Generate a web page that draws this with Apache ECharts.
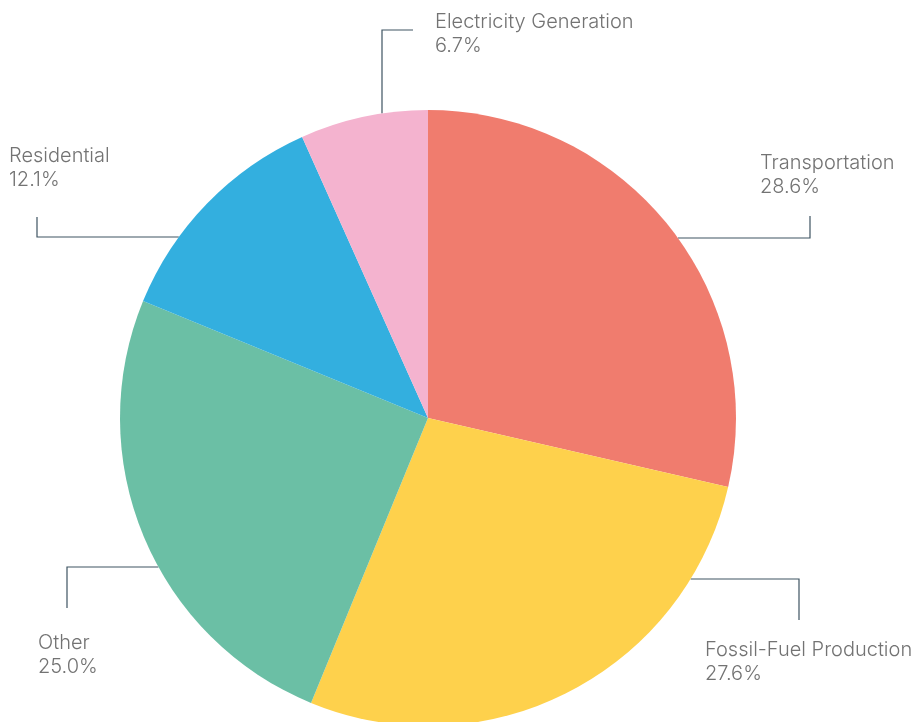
<!DOCTYPE html>
<html>
<head>
<meta charset="utf-8">
<script src="https://cdn.jsdelivr.net/npm/echarts@6/dist/echarts.min.js"></script>
<style>
html, body { margin: 0; padding: 0; background: #fff; }
#main { width: 919px; height: 722px; }
</style>
</head>
<body>
<div id="main"></div>
<script>
var sectors = ['Transportation', 'Fossil-Fuel Production', 'Other', 'Residential', 'Electricity Generation'];
var shares = [28.6, 27.6, 25.0, 12.1, 6.7];
var colors = ['#F07C6E', '#FED14C', '#6BBFA5', '#33AFDF', '#F4B3CF'];

var cx = 428, cy = 418, R = 308;

// where each label sits and how its leader line bends
// hy: y of the horizontal leg, vx: x of the vertical leg for the top one, ex/ey: elbow and end
var labelPos = [
	{ x: 760, y: 151, line: { side: 1, hy: 238, ex: 810, ey: 216 } },
	{ x: 705, y: 638, line: { side: 1, hy: 579, ex: 799, ey: 620 } },
	{ x: 38, y: 631, line: { side: -1, hy: 567, ex: 67, ey: 608 } },
	{ x: 9, y: 144, line: { side: -1, hy: 237, ex: 37, ey: 217 } },
	{ x: 435, y: 10, line: { top: true, vx: 382, ey: 30, ex: 413 } }
];

function linePoints(l) {
	if (l.top) {
		var dy = Math.sqrt(R * R - (l.vx - cx) * (l.vx - cx));
		return [[l.vx, cy - dy], [l.vx, l.ey], [l.ex, l.ey]];
	}
	var dx = Math.sqrt(R * R - (l.hy - cy) * (l.hy - cy));
	return [[cx + l.side * dx, l.hy], [l.ex, l.hy], [l.ex, l.ey]];
}

var data = [];
for (var i = 0; i < sectors.length; i++) {
	data.push({ name: sectors[i], value: shares[i], itemStyle: { color: colors[i] } });
}

var myChart = echarts.init(document.getElementById('main'));
var option = {
	animation: false,
	series: [{
		type: 'pie',
		center: [cx, cy],
		radius: R,
		startAngle: 90,
		clockwise: true,
		data: data,
		itemStyle: { borderWidth: 0 },
		emphasis: { disabled: true },
		label: {
			show: true,
			formatter: function (p) { return p.name + '\n' + p.value.toFixed(1) + '%'; },
			fontFamily: 'Inter',
			fontWeight: 300,
			fontSize: 20,
			lineHeight: 24,
			color: '#737373',
			align: 'left',
			verticalAlign: 'top'
		},
		labelLine: {
			show: true,
			lineStyle: { color: '#3E5462', width: 1.2 }
		},
		labelLayout: function (params) {
			var p = labelPos[params.dataIndex];
			return {
				x: p.x,
				y: p.y,
				align: 'left',
				verticalAlign: 'top',
				labelLinePoints: linePoints(p.line)
			};
		}
	}]
};
myChart.setOption(option);
</script>
</body>
</html>
